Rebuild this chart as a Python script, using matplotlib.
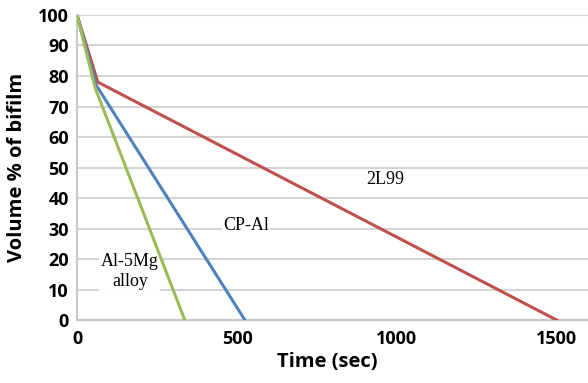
import matplotlib.pyplot as plt

# time (sec) vs volume % of bifilm for each alloy
t_2l99 = [0, 65, 1500]
v_2l99 = [100, 78, 0]
t_cpal = [0, 60, 525]
v_cpal = [100, 77, 0]
t_al5mg = [0, 57, 337]
v_al5mg = [100, 76, 0]

x_ticks = [0, 500, 1000, 1500]
y_ticks = list(range(0, 101, 10))

fig = plt.figure(figsize=(5.88, 3.83), dpi=100)
ax = fig.add_axes([0.131, 0.164, 0.869, 0.797])

ax.plot(t_2l99, v_2l99, color='#C0504D', lw=2.2, zorder=3)
ax.plot(t_cpal, v_cpal, color='#4F81BD', lw=2.2, zorder=3)
ax.plot(t_al5mg, v_al5mg, color='#9BBB59', lw=2.2, zorder=4)

ax.set_xlim(0, 1597)
ax.set_ylim(0, 100)
ax.set_xticks(x_ticks)
ax.set_yticks(y_ticks)
ax.tick_params(length=0, labelsize=13)
ax.tick_params(axis='x', pad=7)
ax.tick_params(axis='y', pad=6)
for lab in ax.get_xticklabels() + ax.get_yticklabels():
    lab.set_fontweight('bold')
    lab.set_family('Open Sans')

ax.grid(axis='y', color='#d4d4d4', lw=1.5)
ax.set_axisbelow(True)
for s in ['top', 'right']:
    ax.spines[s].set_visible(False)
for s in ['left', 'bottom']:
    ax.spines[s].set_color('#c8c8c8')
    ax.spines[s].set_linewidth(1.5)

ax.set_xlabel('Time (sec)', fontsize=14.5, fontweight='bold', family='Open Sans')
ax.set_ylabel('Volume % of bifilm', fontsize=14.5, fontweight='bold', family='Open Sans')
ax.xaxis.set_label_coords(0.49, -0.103)
ax.yaxis.set_label_coords(-0.097, 0.5)

box = dict(facecolor='white', edgecolor='none', pad=1)
ax.text(962, 46, '2L99', family='Liberation Serif', fontsize=13, ha='center', va='center', bbox=box)
ax.text(528, 31, 'CP-Al', family='Liberation Serif', fontsize=13, ha='center', va='center', bbox=box)
ax.text(165, 16, 'Al-5Mg\nalloy', family='Liberation Serif', fontsize=13, ha='center', va='center',
        linespacing=1.25, bbox=box, zorder=2)

fig.savefig('out.png', dpi=100)
